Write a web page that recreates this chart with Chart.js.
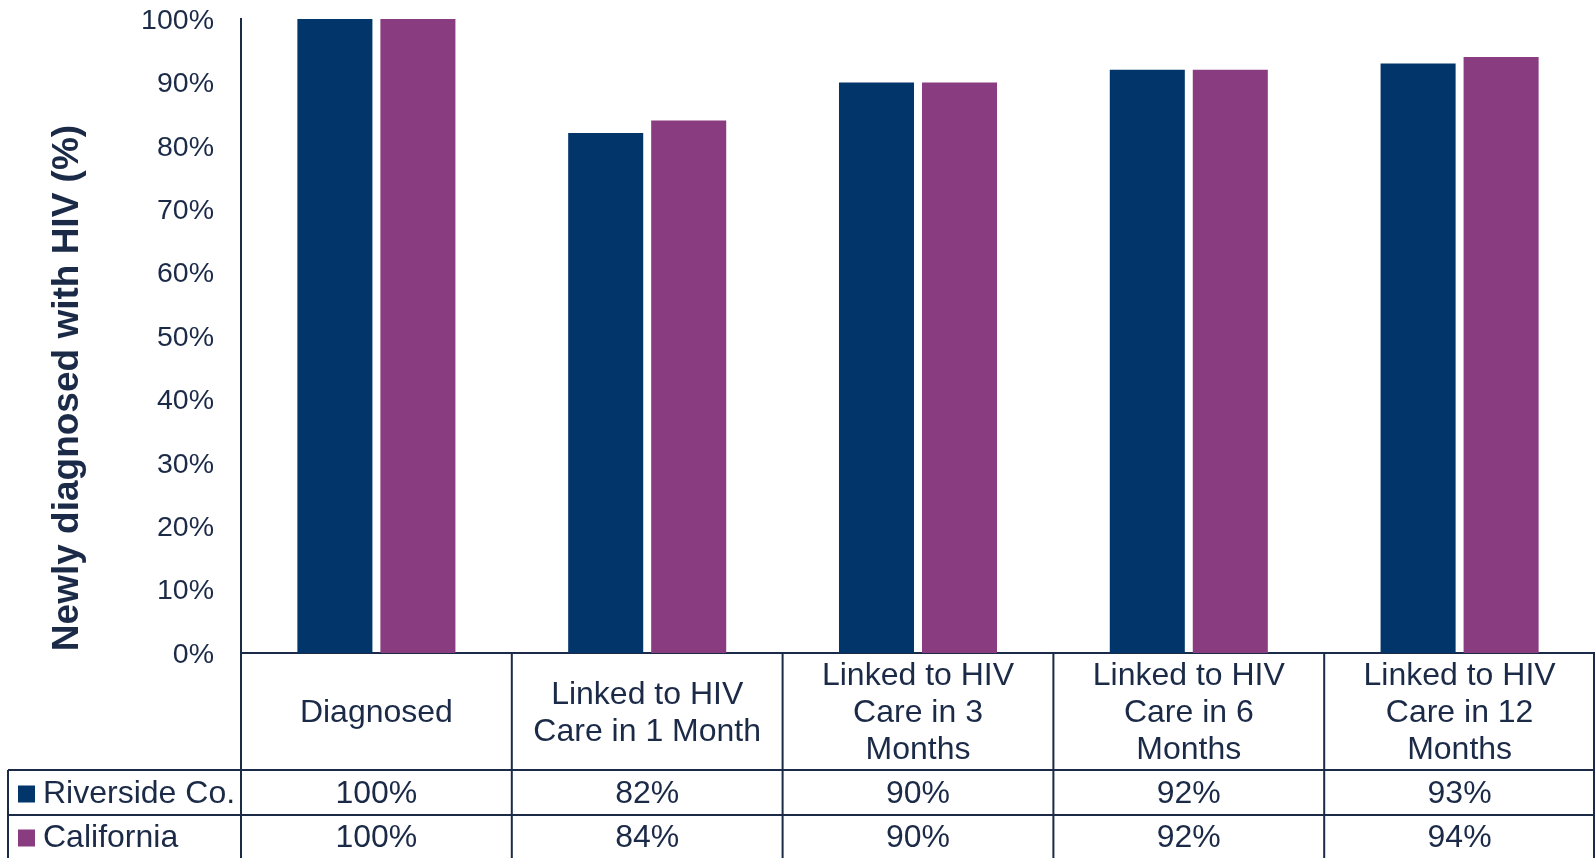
<!DOCTYPE html>
<html>
<head>
<meta charset="utf-8">
<script src="https://cdn.jsdelivr.net/npm/chart.js@4.4.0/dist/chart.umd.min.js"></script>
<style>
html, body { margin: 0; padding: 0; background: #fff; }
#wrap { width: 1595px; height: 858px; position: relative; }
</style>
</head>
<body>
<div id="wrap"><canvas id="chart1"></canvas></div>
<script>
var categories = [
    ["Diagnosed"],
    ["Linked to HIV", "Care in 1 Month"],
    ["Linked to HIV", "Care in 3", "Months"],
    ["Linked to HIV", "Care in 6", "Months"],
    ["Linked to HIV", "Care in 12", "Months"]
];
var riverside = [100, 82, 90, 92, 93];
var california = [100, 84, 90, 92, 94];
var seriesNames = ["Riverside Co.", "California"];
var yTitle = "Newly diagnosed with HIV (%)";

var navy = '#02356a';
var purple = '#893c80';
var ink = '#1b2a47';
var font = '"Liberation Sans", Arial, sans-serif';

// data table + axis title, drawn under the bars
var tabela = {
    id: 'tabela',
    afterDraw: function(chart) {
        var ctx = chart.ctx;
        var xs = chart.scales.x;
        var area = chart.chartArea;
        var n = categories.length;
        var w = xs.width / n;
        var top = area.bottom;
        var hdrBot = top + 117;
        var row1Bot = hdrBot + 45;
        var bottom = chart.height;
        var left = 8;
        var series = [riverside, california];
        var colors = [navy, purple];
        var dy = 2;

        ctx.save();
        ctx.strokeStyle = ink;
        ctx.lineWidth = 2;
        ctx.beginPath();
        // vertical lines
        for (var i = 0; i <= n; i++) {
            var lx = Math.min(xs.left + i * w, chart.width - 1);
            ctx.moveTo(lx, top);
            ctx.lineTo(lx, bottom);
        }
        ctx.moveTo(left, hdrBot);
        ctx.lineTo(left, bottom);
        ctx.moveTo(left, hdrBot);
        ctx.lineTo(chart.width, hdrBot);
        ctx.moveTo(left, row1Bot);
        ctx.lineTo(chart.width, row1Bot);
        ctx.stroke();

        ctx.fillStyle = ink;
        ctx.font = '32px ' + font;
        ctx.textAlign = 'center';
        ctx.textBaseline = 'middle';
        var lh = 37;
        for (var c = 0; c < n; c++) {
            var cx = xs.getPixelForValue(c);
            var lines = categories[c];
            var y0 = (top + hdrBot) / 2 - (lines.length - 1) * lh / 2 + dy;
            for (var k = 0; k < lines.length; k++) {
                ctx.fillText(lines[k], cx, y0 + k * lh);
            }
            ctx.fillText(riverside[c] + '%', cx, (hdrBot + row1Bot) / 2 + dy);
            ctx.fillText(california[c] + '%', cx, (row1Bot + bottom) / 2 + dy);
        }

        var rowMid = [(hdrBot + row1Bot) / 2, (row1Bot + bottom) / 2];
        ctx.textAlign = 'left';
        for (var s = 0; s < series.length; s++) {
            ctx.fillStyle = colors[s];
            ctx.fillRect(18, rowMid[s] - 7, 17, 17);
            ctx.fillStyle = ink;
            ctx.fillText(seriesNames[s], 43, rowMid[s] + dy);
        }

        // y axis title
        ctx.translate(68, 388);
        ctx.rotate(-Math.PI / 2);
        ctx.textAlign = 'center';
        ctx.font = 'bold 37px ' + font;
        ctx.fillText(yTitle, 0, 0);
        ctx.restore();
    }
};

var data = {
    labels: categories,
    datasets: [{
        label: seriesNames[0],
        data: riverside,
        backgroundColor: navy,
        categoryPercentage: 0.613,
        barPercentage: 0.904
    }, {
        label: seriesNames[1],
        data: california,
        backgroundColor: purple,
        categoryPercentage: 0.613,
        barPercentage: 0.904
    }]
};

var options = {
    responsive: true,
    maintainAspectRatio: false,
    animation: false,
    layout: { padding: { top: 19, bottom: 205, left: 0, right: 0 } },
    plugins: {
        legend: { display: false },
        tooltip: { enabled: false }
    },
    scales: {
        x: {
            grid: { display: false },
            ticks: { display: false },
            border: { display: true, color: ink, width: 2 },
            afterFit: function(s) { s.height = 0; }
        },
        y: {
            min: 0,
            max: 100,
            grid: { display: false, drawTicks: false },
            border: { display: true, color: ink, width: 2 },
            ticks: {
                stepSize: 10,
                padding: 27,
                labelOffset: 2,
                color: ink,
                font: { size: 28.5, family: font },
                callback: function(v) { return v + '%'; }
            },
            afterFit: function(s) {
                s.width = 241;
                s.paddingTop = 0;
                s.paddingBottom = 0;
            }
        }
    }
};

var ctx = document.getElementById("chart1");
var barChart = new Chart(ctx, {
    type: 'bar',
    data: data,
    options: options,
    plugins: [tabela]
});
</script>
</body>
</html>
